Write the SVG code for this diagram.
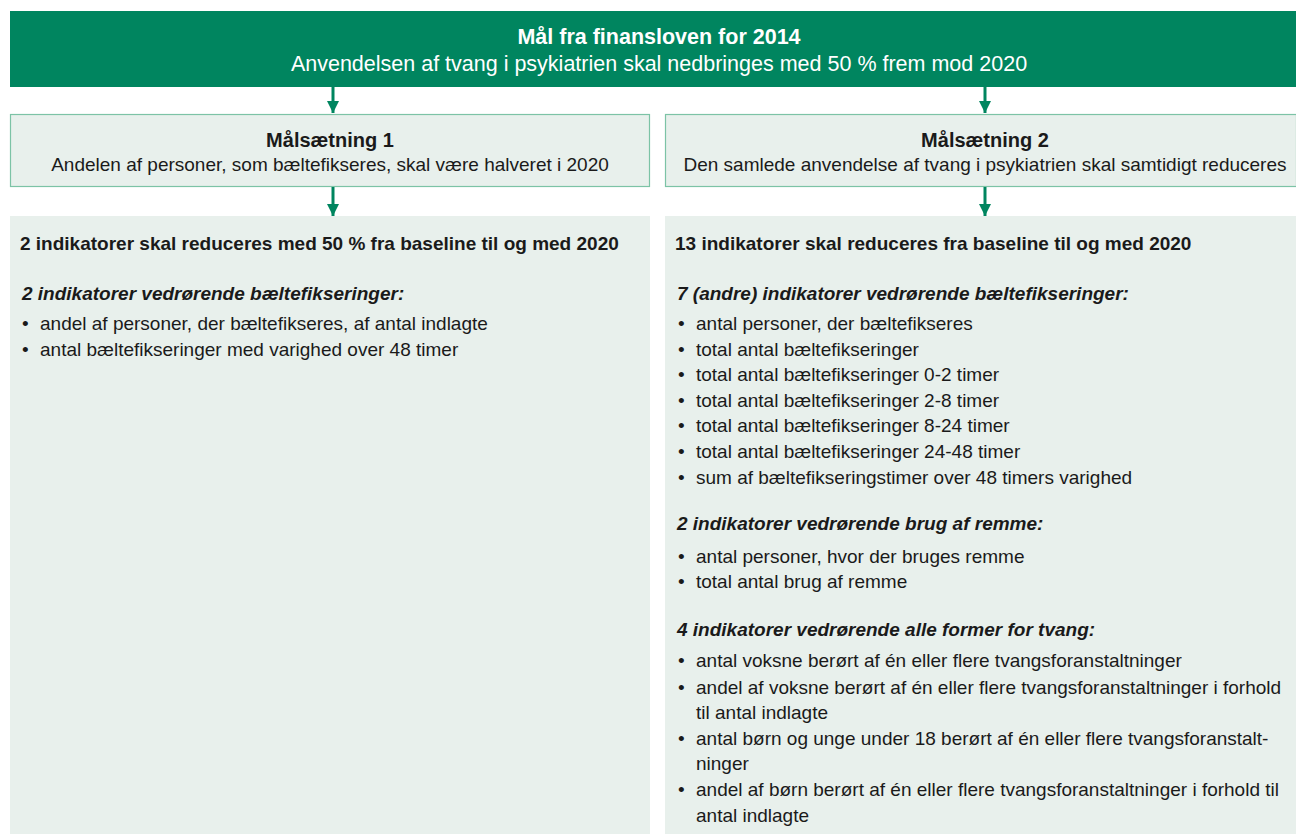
<svg xmlns="http://www.w3.org/2000/svg" width="1296" height="834" viewBox="0 0 1296 834">
<defs>
<marker id="ah" viewBox="0 0 10 10" refX="10" refY="5" markerWidth="4" markerHeight="4" markerUnits="strokeWidth" orient="auto">
<path d="M0,0 L10,5 L0,10 z" fill="#00855f"/>
</marker>
<style>
text{font-family:"Liberation Sans",Arial,sans-serif;fill:#1a1a1a}
.h{fill:#00855f}
.box{fill:#e8f0ec;stroke:#7cc3a6;stroke-width:1.2}
.panel{fill:#e8f0ec}
.t1{font-size:21.5px;font-weight:bold;fill:#fff}
.t2{font-size:21.5px;fill:#fff}
.bt{font-size:20px;font-weight:bold}
.bs{font-size:19px}
.ph{font-size:19px;font-weight:bold}
.pi{font-size:19px;font-weight:bold;font-style:italic}
.li{font-size:19px}
.conn{stroke:#00855f;stroke-width:3;fill:none;marker-end:url(#ah)}
</style>
</defs>
<rect width="1296" height="834" fill="#fff"/>
<g id="header">
<rect class="h" x="10" y="11" width="1286" height="76"/>
<text class="t1" x="659" y="44" text-anchor="middle">Mål fra finansloven for 2014</text>
<text class="t2" x="659" y="71" text-anchor="middle">Anvendelsen af tvang i psykiatrien skal nedbringes med 50 % frem mod 2020</text>
</g>
<g id="maal1">
<rect class="box" x="10.5" y="114.5" width="639" height="72"/>
<text class="bt" x="330" y="147" text-anchor="middle">Målsætning 1</text>
<text class="bs" x="330" y="171" text-anchor="middle">Andelen af personer, som bæltefikseres, skal være halveret i 2020</text>
</g>
<g id="maal2">
<rect class="box" x="665.5" y="114.5" width="631" height="72"/>
<text class="bt" x="985" y="147" text-anchor="middle">Målsætning 2</text>
<text class="bs" x="985" y="171" text-anchor="middle">Den samlede anvendelse af tvang i psykiatrien skal samtidigt reduceres</text>
</g>
<g id="panel1">
<rect class="panel" x="10" y="216" width="640" height="618"/>
<text class="ph" x="20" y="250">2 indikatorer skal reduceres med 50 % fra baseline til og med 2020</text>
<text class="pi" x="22" y="300">2 indikatorer vedrørende bæltefikseringer:</text>
<text class="li" x="22" y="330">•</text><text class="li" x="40" y="330">andel af personer, der bæltefikseres, af antal indlagte</text>
<text class="li" x="22" y="356">•</text><text class="li" x="40" y="356">antal bæltefikseringer med varighed over 48 timer</text>
</g>
<g id="panel2">
<rect class="panel" x="665" y="216" width="631" height="618"/>
<text class="ph" x="675" y="250">13 indikatorer skal reduceres fra baseline til og med 2020</text>
<text class="pi" x="677" y="300">7 (andre) indikatorer vedrørende bæltefikseringer:</text>
<text class="li" x="678" y="330">•</text><text class="li" x="696" y="330">antal personer, der bæltefikseres</text>
<text class="li" x="678" y="356">•</text><text class="li" x="696" y="356">total antal bæltefikseringer</text>
<text class="li" x="678" y="381">•</text><text class="li" x="696" y="381">total antal bæltefikseringer 0-2 timer</text>
<text class="li" x="678" y="407">•</text><text class="li" x="696" y="407">total antal bæltefikseringer 2-8 timer</text>
<text class="li" x="678" y="432">•</text><text class="li" x="696" y="432">total antal bæltefikseringer 8-24 timer</text>
<text class="li" x="678" y="458">•</text><text class="li" x="696" y="458">total antal bæltefikseringer 24-48 timer</text>
<text class="li" x="678" y="484">•</text><text class="li" x="696" y="484">sum af bæltefikseringstimer over 48 timers varighed</text>
<text class="pi" x="677" y="530">2 indikatorer vedrørende brug af remme:</text>
<text class="li" x="678" y="563">•</text><text class="li" x="696" y="563">antal personer, hvor der bruges remme</text>
<text class="li" x="678" y="588">•</text><text class="li" x="696" y="588">total antal brug af remme</text>
<text class="pi" x="677" y="636">4 indikatorer vedrørende alle former for tvang:</text>
<text class="li" x="678" y="667">•</text><text class="li" x="696" y="667">antal voksne berørt af én eller flere tvangsforanstaltninger</text>
<text class="li" x="678" y="694">•</text><text class="li" x="696" y="694">andel af voksne berørt af én eller flere tvangsforanstaltninger i forhold</text>
<text class="li" x="696" y="719">til antal indlagte</text>
<text class="li" x="678" y="745">•</text><text class="li" x="696" y="745">antal børn og unge under 18 berørt af én eller flere tvangsforanstalt-</text>
<text class="li" x="696" y="770">ninger</text>
<text class="li" x="678" y="796">•</text><text class="li" x="696" y="796">andel af børn berørt af én eller flere tvangsforanstaltninger i forhold til</text>
<text class="li" x="696" y="822">antal indlagte</text>
</g>
<g id="connectors">
<line class="conn" x1="333" y1="87" x2="333" y2="113"/>
<line class="conn" x1="985" y1="87" x2="985" y2="113"/>
<line class="conn" x1="333" y1="187" x2="333" y2="216"/>
<line class="conn" x1="985" y1="187" x2="985" y2="216"/>
</g>
</svg>
